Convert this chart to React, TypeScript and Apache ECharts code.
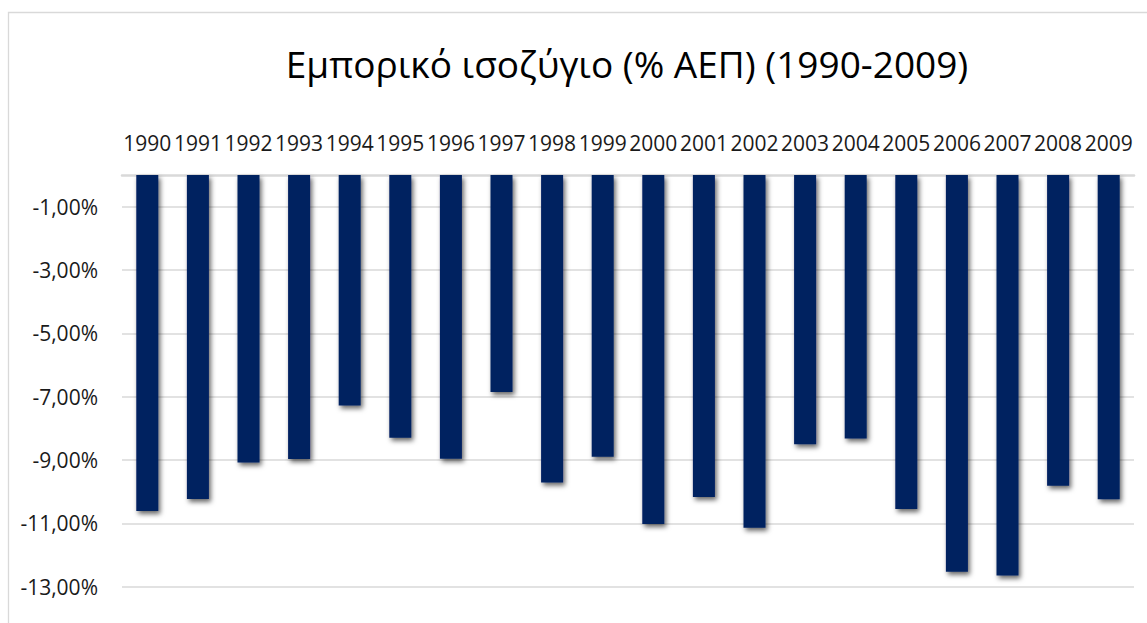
import React, { useEffect, useRef } from "react";
import * as echarts from "echarts";

const titleText = "Εμπορικό ισοζύγιο (% ΑΕΠ) (1990-2009)";

const years = [
  "1990", "1991", "1992", "1993", "1994", "1995", "1996", "1997", "1998", "1999",
  "2000", "2001", "2002", "2003", "2004", "2005", "2006", "2007", "2008", "2009",
];

// Trade balance, % of GDP
const tradeBalance = [
  -10.61, -10.23, -9.08, -8.97, -7.28, -8.3, -8.96, -6.85, -9.71, -8.9,
  -11.02, -10.17, -11.14, -8.5, -8.32, -10.55, -12.53, -12.65, -9.81, -10.24,
];

// Labelled ticks on the value axis
const labelledTicks = [-1, -3, -5, -7, -9, -11, -13];

const FONT = "'Open Sans', 'Noto Sans', sans-serif";

export default function App() {
  const ref = useRef<HTMLDivElement>(null);

  useEffect(() => {
    if (!ref.current) return;
    const chart = echarts.init(ref.current, null, { renderer: "svg" });
    chart.setOption({
      animation: false,
      backgroundColor: "#ffffff",
      title: {
        text: titleText,
        left: 622,
        top: 40,
        textAlign: "center",
        textStyle: {
          fontFamily: FONT,
          fontSize: 37,
          fontWeight: "normal",
          color: "#000000",
        },
      },
      graphic: [
        {
          type: "rect",
          silent: true,
          z: -10,
          shape: { x: 8.5, y: 12.5, width: 1400, height: 900 },
          style: { fill: "none", stroke: "#d9d9d9", lineWidth: 1.3 },
        },
      ],
      grid: { left: 122, right: 13, top: 175, height: 475, containLabel: false },
      xAxis: {
        type: "category",
        position: "top",
        data: years,
        axisLine: { show: true, lineStyle: { color: "#d9d9d9", width: 2.5 } },
        axisTick: { show: false },
        axisLabel: {
          interval: 0,
          margin: 22,
          fontFamily: FONT,
          fontSize: 21,
          color: "#1a1a1a",
        },
      },
      yAxis: {
        type: "value",
        min: -15,
        max: 0,
        interval: 1,
        axisLine: { show: false },
        axisTick: { show: false },
        splitLine: {
          show: true,
          lineStyle: { color: ["#d9d9d9", "rgba(0,0,0,0)"], width: 1.5 },
        },
        axisLabel: {
          margin: 24,
          fontFamily: FONT,
          fontSize: 21,
          color: "#1a1a1a",
          formatter: (v: number) =>
            labelledTicks.includes(Math.round(v))
              ? v.toFixed(2).replace(".", ",") + "%"
              : "",
        },
      },
      series: [
        {
          type: "bar",
          data: tradeBalance,
          barWidth: 22,
          itemStyle: {
            color: "#002060",
            shadowColor: "rgba(0,0,0,0.6)",
            shadowBlur: 5,
            shadowOffsetX: 2,
            shadowOffsetY: 3,
          },
        },
      ],
    });
    return () => chart.dispose();
  }, []);

  return (
    <div
      style={{
        position: "absolute",
        left: 0,
        top: 0,
        width: 1147,
        height: 623,
        overflow: "hidden",
      }}
    >
      <div ref={ref} style={{ width: 1147, height: 680 }} />
    </div>
  );
}
